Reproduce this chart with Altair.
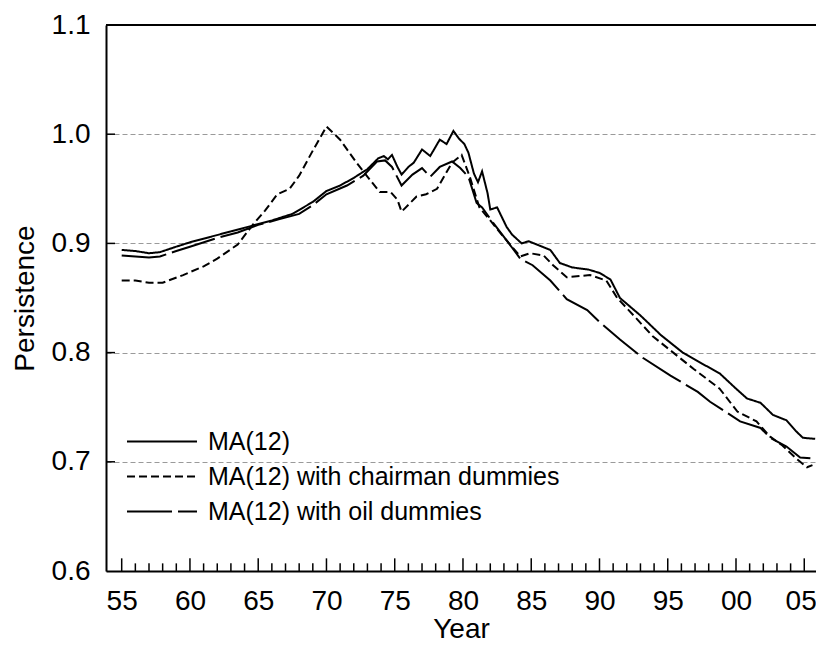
import altair as alt
import pandas as pd

# ---- data ----
yrs_ma = [1955.0, 1956.0, 1957.0, 1957.8, 1959.0, 1960.0, 1961.5, 1963.0, 1964.5, 1966.0,
          1967.5, 1969.0, 1970.0, 1971.0, 1972.0, 1973.0, 1973.8, 1974.2, 1974.5, 1974.8,
          1975.2, 1975.5, 1976.0, 1976.4, 1977.0, 1977.6, 1978.3, 1978.8, 1979.3, 1979.7,
          1980.1, 1980.4, 1980.8, 1981.1, 1981.4, 1981.8, 1982.0, 1982.5, 1983.2, 1983.6,
          1984.3, 1984.8, 1985.4, 1986.4, 1987.1, 1988.0, 1989.2, 1990.0, 1990.8, 1991.5,
          1993.0, 1994.5, 1996.1, 1997.5, 1998.8, 2000.0, 2000.8, 2001.8, 2002.7, 2003.7,
          2004.4, 2004.9, 2005.8]
val_ma = [0.894, 0.893, 0.891, 0.892, 0.897, 0.901, 0.906, 0.911, 0.916, 0.921,
          0.927, 0.938, 0.948, 0.953, 0.960, 0.968, 0.978, 0.980, 0.977, 0.981,
          0.970, 0.963, 0.970, 0.974, 0.986, 0.980, 0.995, 0.991, 1.003, 0.996,
          0.991, 0.983, 0.964, 0.956, 0.966, 0.946, 0.931, 0.933, 0.915, 0.908,
          0.900, 0.902, 0.899, 0.894, 0.882, 0.878, 0.876, 0.873, 0.867, 0.850,
          0.834, 0.816, 0.800, 0.790, 0.781, 0.767, 0.758, 0.754, 0.743, 0.738,
          0.728, 0.722, 0.721]

yrs_ch = [1955.0, 1956.0, 1957.0, 1958.0, 1959.5, 1961.0, 1962.0, 1963.5, 1964.6, 1965.5,
          1966.4, 1967.3, 1968.0, 1969.0, 1970.0, 1971.0, 1972.2, 1973.2, 1973.9, 1974.7,
          1975.2, 1975.5, 1976.6, 1977.3, 1978.1, 1979.2, 1979.9, 1980.5, 1981.2, 1982.0,
          1982.7, 1984.2, 1984.9, 1985.9, 1986.6, 1987.6, 1989.3, 1990.5, 1991.3, 1992.5,
          1993.9, 1995.7, 1996.9, 1998.8, 2000.1, 2001.5, 2002.5, 2003.4, 2004.5, 2005.2,
          2005.6]
val_ch = [0.866, 0.866, 0.864, 0.864, 0.871, 0.879, 0.886, 0.899, 0.917, 0.930,
          0.945, 0.950, 0.962, 0.985, 1.007, 0.995, 0.974, 0.958, 0.947, 0.947,
          0.940, 0.929, 0.943, 0.945, 0.950, 0.974, 0.981, 0.961, 0.933, 0.921,
          0.910, 0.888, 0.891, 0.889, 0.880, 0.869, 0.871, 0.866, 0.850, 0.834,
          0.815, 0.797, 0.785, 0.767, 0.746, 0.737, 0.723, 0.715, 0.702, 0.695,
          0.697]

yrs_oil = [1955.0, 1956.0, 1957.0, 1957.8, 1959.0, 1960.0, 1962.0, 1963.5, 1965.0, 1966.5,
           1968.0, 1969.0, 1970.0, 1971.5, 1972.7, 1973.7, 1974.3, 1974.8, 1975.5, 1976.3,
           1977.0, 1977.6, 1978.3, 1979.2, 1979.8, 1980.4, 1981.0, 1981.4, 1982.2, 1983.0,
           1983.6, 1984.2, 1985.1, 1986.4, 1987.6, 1989.1, 1990.0, 1991.5, 1993.2, 1995.2,
           1997.2, 1998.1, 1999.1, 2000.3, 2001.8, 2002.5, 2003.7, 2004.7, 2005.6]
val_oil = [0.889, 0.888, 0.887, 0.888, 0.893, 0.897, 0.905, 0.910, 0.917, 0.922,
           0.927, 0.935, 0.945, 0.953, 0.962, 0.975, 0.976, 0.970, 0.953, 0.963,
           0.969, 0.961, 0.970, 0.975, 0.969, 0.961, 0.937, 0.933, 0.919, 0.906,
           0.896, 0.886, 0.880, 0.866, 0.849, 0.839, 0.828, 0.812, 0.795, 0.779,
           0.764, 0.755, 0.747, 0.737, 0.731, 0.722, 0.714, 0.704, 0.703]

series_names = ["MA(12)", "MA(12) with chairman dummies", "MA(12) with oil dummies"]
y_ticks = [0.6, 0.7, 0.8, 0.9, 1.0, 1.1]
x_ticks = list(range(1955, 2006, 5))
x_minor = list(range(1955, 2006))

X_DOMAIN = [1953.85, 2005.86]
Y_DOMAIN = [0.6, 1.1]
FONT = "Liberation Sans"

rows = []
for name, ys, vs in zip(series_names, [yrs_ma, yrs_ch, yrs_oil], [val_ma, val_ch, val_oil]):
    for i, (yy, vv) in enumerate(zip(ys, vs)):
        rows.append({"year": yy, "value": vv, "series": name, "order": i})
df = pd.DataFrame(rows)

xs = alt.Scale(domain=X_DOMAIN, nice=False, zero=False)
ysc = alt.Scale(domain=Y_DOMAIN, nice=False, zero=False)

lines = alt.Chart(df).mark_line(color="black", strokeWidth=2, clip=True).encode(
    x=alt.X("year:Q", scale=xs, title="Year",
            axis=alt.Axis(values=x_ticks, labelExpr="substring(toString(datum.value), 2, 4)",
                          ticks=False, grid=False, domainColor="black", domainWidth=2,
                          labelFontSize=28, labelPadding=16, labelColor="black",
                          labelFlush=14, labelFlushOffset=12,
                          titleFontSize=28, titleColor="black", titleY=66,
                          titleBaseline="alphabetic",
                          titleFontWeight="normal", labelFont=FONT, titleFont=FONT)),
    y=alt.Y("value:Q", scale=ysc, title="Persistence",
            axis=alt.Axis(values=y_ticks, format=".1f", ticks=False, grid=True,
                          gridDash=[5, 3], gridColor="#9a9a9a", gridWidth=1,
                          domainColor="black", domainWidth=2,
                          labelFontSize=28, labelPadding=16, labelColor="black",
                          titleFontSize=28, titlePadding=12, titleColor="black",
                          titleFontWeight="normal", labelFont=FONT, titleFont=FONT)),
    strokeDash=alt.StrokeDash("series:N",
                              scale=alt.Scale(domain=series_names,
                                              range=[[1, 0], [8, 4], [45, 6]]),
                              legend=alt.Legend(title=None, orient="none", legendX=34.5, legendY=395,
                                                symbolType="M-1.707,0H1.707", symbolSize=1681,
                                                symbolStrokeWidth=2, symbolStrokeColor="black",
                                                symbolFillColor="transparent",
                                                labelFontSize=25, labelFont=FONT, labelLimit=600,
                                                labelColor="black", rowPadding=0,
                                                labelOffset=24.5)),
    order="order:Q",
)

top_df = pd.DataFrame({"v": [Y_DOMAIN[1]]})
top_line = alt.Chart(top_df).mark_rule(color="black", strokeWidth=2).encode(y=alt.Y("v:Q", scale=ysc))

tick_df = pd.DataFrame({"yr": x_minor,
                        "y0": [Y_DOMAIN[0]] * len(x_minor),
                        "y1": [Y_DOMAIN[0] + (0.0116 if yv % 5 == 0 else 0.007) for yv in x_minor]})
xtick = alt.Chart(tick_df).mark_rule(color="black", strokeWidth=1.5).encode(
    x=alt.X("yr:Q", scale=xs), y=alt.Y("y0:Q", scale=ysc), y2="y1:Q")

ytick_df = pd.DataFrame({"v": y_ticks[1:-1],
                         "x0": [X_DOMAIN[0]] * 4,
                         "x1": [X_DOMAIN[0] + 0.66] * 4})
ytick = alt.Chart(ytick_df).mark_rule(color="black", strokeWidth=1.5).encode(
    y=alt.Y("v:Q", scale=ysc), x=alt.X("x0:Q", scale=xs), x2="x1:Q")

chart = alt.layer(lines, top_line, xtick, ytick).properties(
    width=710, height=546,
    autosize=alt.AutoSizeParams(type="none"),
    padding={"left": 98, "top": 17, "right": 0, "bottom": 71},
).configure_view(stroke=None).configure(background="white")

chart.save("out.html", embed_options={"renderer": "svg", "actions": False})
